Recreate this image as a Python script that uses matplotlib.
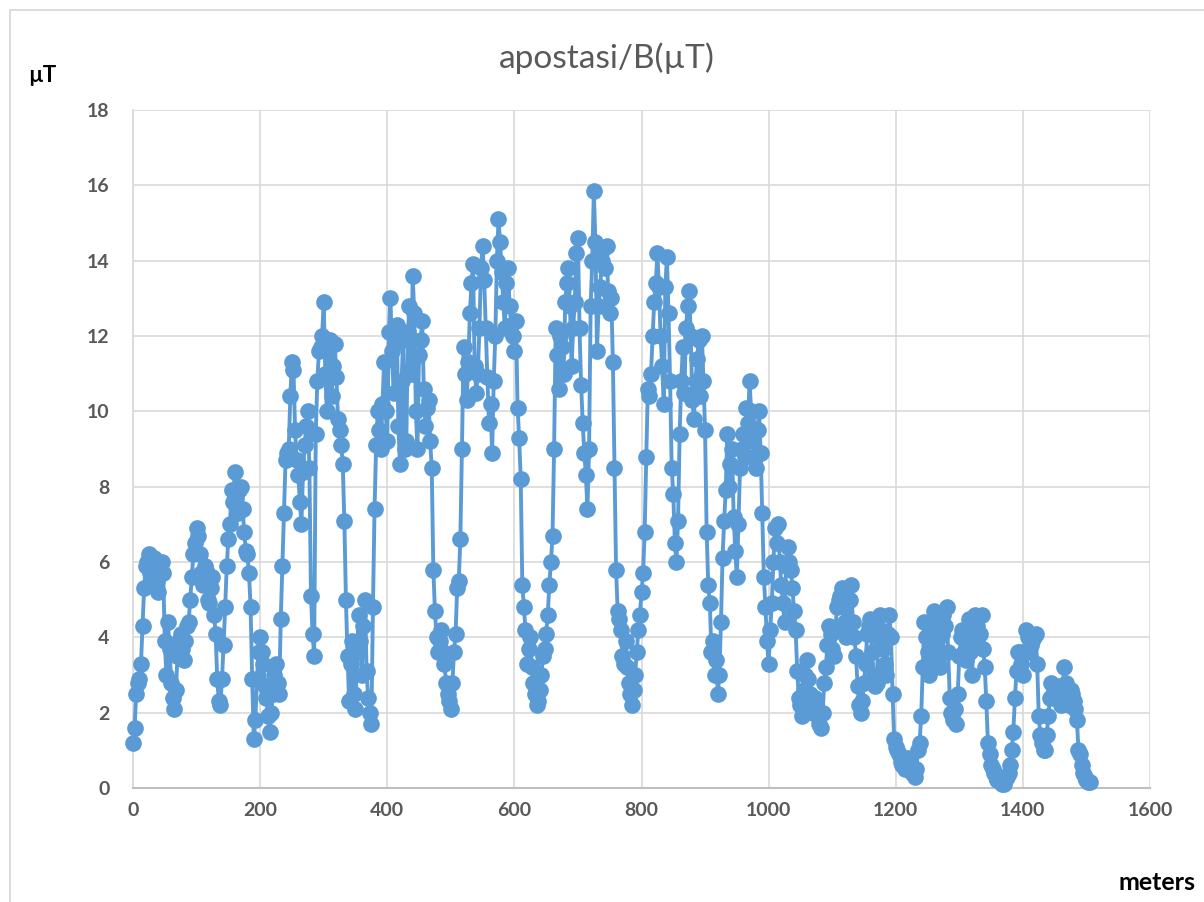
import numpy as np
import matplotlib
matplotlib.use('Agg')  # no display
import matplotlib.pyplot as plt
from matplotlib.lines import Line2D

# field readings: one at every 5 m, and the
# in-between readings (2.5 m further on) in a second list
step_m = 5
field_uT = [
	1.2, 2.5, 2.9, 4.3, 5.9, 6.2, 5.4, 5.9, 5.2, 6.0, 3.9, 4.4, 2.8, 2.1, 3.5, 4.1, 3.4, 4.3, 5.0, 6.2,
	6.9, 6.2, 5.4, 5.8, 4.9, 5.6, 4.1, 2.3, 2.9, 4.8, 6.6, 7.9, 8.4, 7.3, 8.0, 6.8, 6.2, 4.8, 1.3, 2.9,
	4.0, 3.3, 2.4, 1.5, 2.5, 3.3, 2.5, 5.9, 8.7, 9.0, 11.3, 9.5, 8.3, 7.0, 9.1, 10.0, 5.1, 3.5, 10.8, 11.7,
	12.9, 10.0, 11.9, 11.2, 10.9, 9.5, 8.6, 5.0, 2.3, 3.9, 2.1, 4.6, 3.0, 5.0, 2.4, 1.7, 7.4, 10.0, 9.0, 11.3,
	9.2, 13.0, 10.5, 12.3, 8.6, 11.9, 9.2, 12.8, 13.6, 10.0, 11.5, 12.4, 9.6, 10.3, 8.5, 4.7, 3.6, 4.2, 3.3, 2.5,
	2.1, 3.6, 5.3, 6.6, 11.7, 10.3, 12.6, 13.9, 10.5, 12.2, 14.4, 12.2, 9.7, 8.9, 12.0, 15.1, 13.7, 12.2, 13.8, 12.3,
	11.6, 10.1, 8.2, 4.8, 3.3, 4.0, 2.8, 2.2, 2.6, 3.5, 4.1, 5.4, 6.7, 12.2, 10.6, 11.7, 12.9, 13.8, 11.2, 12.9,
	14.6, 10.7, 8.9, 7.4, 12.8, 15.85, 11.6, 13.3, 14.3, 14.4, 12.6, 11.3, 5.8, 4.5, 3.5, 3.9, 2.8, 2.2, 3.0, 4.2,
	5.2, 6.8, 10.6, 11.0, 12.9, 14.2, 12.0, 10.2, 14.1, 10.8, 7.8, 6.0, 9.4, 11.7, 12.2, 13.2, 10.3, 10.8, 11.9, 12.0,
	9.5, 5.4, 3.6, 3.0, 2.5, 4.4, 7.1, 9.4, 8.6, 7.2, 5.6, 8.5, 9.4, 10.1, 10.8, 9.2, 8.5, 10.0, 7.3, 4.8,
	3.3, 4.9, 6.9, 7.0, 5.4, 4.4, 6.4, 5.8, 4.7, 3.1, 2.2, 2.6, 3.4, 2.5, 2.0, 2.2, 1.7, 2.0, 3.2, 4.3,
	3.7, 4.2, 5.0, 5.3, 4.4, 4.2, 5.4, 4.0, 2.7, 2.0, 2.8, 4.1, 4.5, 3.0, 2.8, 4.6, 3.7, 3.0, 4.6, 2.5,
	1.1, 0.9, 0.6, 0.5, 0.8, 0.4, 0.3, 1.0, 1.9, 4.4, 3.6, 3.3, 4.7, 3.9, 3.2, 4.6, 4.8, 2.4, 1.8, 1.7,
	3.5, 4.2, 3.4, 4.5, 3.0, 4.6, 3.8, 4.6, 3.2, 1.2, 0.6, 0.4, 0.2, 0.15, 0.1, 0.3, 0.6, 1.5, 3.1, 3.6,
	3.0, 4.2, 3.6, 3.9, 4.1, 1.9, 1.2, 1.0, 1.9, 2.8, 2.4, 2.7, 2.2, 3.2, 2.4, 2.6, 2.3, 1.8, 0.9, 0.4,
	0.2, 0.15,
]
field_mid_uT = [
	1.6, 2.8, 3.3, 5.3, 6.0, 5.7, 6.1, 5.5, 5.8, 5.7, 3.0, 3.7, 2.4, 2.6, 3.9, 3.7, 3.9, 4.4, 5.6, 6.5,
	6.7, 5.7, 5.9, 5.0, 5.3, 4.6, 2.9, 2.2, 3.8, 5.9, 7.0, 7.6, 7.7, 7.9, 7.4, 6.3, 5.7, 2.9, 1.8, 3.6,
	3.6, 2.7, 1.9, 2.0, 3.0, 2.8, 4.5, 7.3, 8.9, 10.4, 11.1, 8.7, 7.6, 8.4, 9.6, 8.5, 4.1, 9.4, 11.6, 12.0,
	11.0, 11.6, 10.4, 11.8, 9.8, 9.1, 7.1, 3.5, 3.3, 2.5, 3.6, 3.9, 4.3, 3.1, 2.0, 4.8, 9.1, 9.5, 10.2, 10.0,
	12.1, 11.6, 11.8, 9.6, 10.8, 9.0, 12.1, 11.0, 12.6, 9.0, 11.9, 10.6, 10.1, 9.2, 5.8, 4.0, 3.9, 3.6, 2.8, 2.3,
	2.8, 4.1, 5.5, 9.0, 11.0, 11.3, 13.4, 11.2, 11.0, 13.8, 13.5, 10.9, 10.2, 10.8, 14.0, 14.5, 12.9, 13.4, 12.8, 12.0,
	12.4, 9.3, 5.4, 4.2, 3.7, 3.2, 2.5, 2.3, 3.0, 3.7, 4.6, 6.0, 9.0, 11.5, 12.0, 11.0, 13.4, 12.8, 12.2, 14.2,
	12.2, 9.7, 8.3, 9.0, 14.0, 14.5, 12.8, 14.0, 13.8, 13.2, 13.0, 8.5, 4.7, 4.2, 3.3, 3.2, 2.5, 2.6, 3.6, 4.6,
	5.7, 8.8, 10.4, 12.0, 13.4, 13.3, 11.2, 13.3, 12.6, 8.5, 6.5, 7.1, 10.8, 10.5, 12.8, 12.0, 9.8, 11.4, 10.4, 10.8,
	6.8, 4.9, 3.9, 3.4, 3.0, 6.1, 7.9, 8.0, 9.0, 6.3, 7.0, 9.0, 8.8, 9.7, 10.0, 8.8, 9.5, 8.9, 5.6, 3.9,
	4.2, 6.0, 6.5, 6.0, 4.9, 5.9, 6.0, 5.3, 4.2, 2.4, 1.9, 3.0, 2.9, 2.2, 2.4, 1.9, 1.6, 2.8, 3.8, 4.1,
	3.5, 4.8, 5.1, 4.8, 4.0, 5.0, 4.4, 3.5, 2.2, 2.3, 3.3, 4.3, 3.6, 2.7, 4.0, 4.2, 3.3, 4.1, 4.0, 1.3,
	1.0, 0.7, 0.8, 0.6, 0.6, 0.5, 0.5, 1.2, 3.2, 4.0, 3.0, 3.9, 4.3, 3.5, 4.1, 4.3, 3.6, 2.0, 2.1, 2.5,
	4.0, 3.6, 4.1, 3.6, 4.0, 4.3, 4.1, 3.7, 2.3, 0.9, 0.5, 0.3, 0.25, 0.1, 0.2, 0.4, 1.0, 2.4, 3.6, 3.3,
	3.6, 4.0, 3.8, 4.0, 3.3, 1.4, 1.0, 1.4, 2.4, 2.5, 2.6, 2.4, 2.7, 2.8, 2.2, 2.5, 2.1, 1.0, 0.6, 0.3,
	0.15,
]

x_ticks = [0, 200, 400, 600, 800, 1000, 1200, 1400, 1600]
y_ticks = [0, 2, 4, 6, 8, 10, 12, 14, 16, 18]

# interleave the two lists into one walk along the route
n = len(field_uT) + len(field_mid_uT)
distance_m = np.empty(n)
field = np.empty(n)
distance_m[0::2] = np.arange(len(field_uT)) * step_m
distance_m[1::2] = np.arange(len(field_mid_uT)) * step_m + step_m / 2
field[0::2] = field_uT
field[1::2] = field_mid_uT

W, H = 1204, 902
blue = '#5b9bd5'
grid_c = '#d9d9d9'
label_c = '#595959'
plt.rcParams['font.family'] = ['Lato', 'DejaVu Sans']

fig = plt.figure(figsize=(W / 100, H / 100), dpi=100)
ax = fig.add_axes([133 / W, 1 - 788 / H, (1150 - 133) / W, 678 / H])

ax.plot(distance_m, field, color=blue, lw=2.8, marker='o', ms=10.8,
		mfc=blue, mec=blue, mew=1.2, clip_on=False, zorder=3)

ax.set_xlim(0, 1600)
ax.set_ylim(0, 18)
ax.set_xticks(x_ticks)
ax.set_yticks(y_ticks)
ax.grid(True, color=grid_c, lw=1.2, zorder=0)
ax.set_axisbelow(True)
ax.tick_params(length=0, labelsize=14, labelcolor=label_c)
ax.tick_params(axis='y', pad=17)
ax.tick_params(axis='x', pad=10)
for lab in ax.get_xticklabels() + ax.get_yticklabels():
	lab.set_fontweight('bold')

for s in ['top', 'right']:
	ax.spines[s].set_visible(False)
ax.spines['left'].set_color(grid_c)
ax.spines['left'].set_linewidth(1.2)
ax.spines['bottom'].set_color('#bfbfbf')
ax.spines['bottom'].set_linewidth(1.5)

# chart area border (runs off the right and bottom edges)
fig.add_artist(Line2D([10 / W, 1], [1 - 10 / H] * 2, color=grid_c, lw=1.3, transform=fig.transFigure))
fig.add_artist(Line2D([10 / W] * 2, [0, 1 - 10 / H], color=grid_c, lw=1.3, transform=fig.transFigure))

fig.text(607 / W, 1 - 58 / H, 'apostasi/B(µT)', ha='center', va='center', fontsize=24, color=label_c)
fig.text(28 / W, 1 - 76 / H, 'µT', ha='left', va='center', fontsize=16, fontweight='bold', color='black')
fig.text(1195 / W, 1 - 882 / H, 'meters', ha='right', va='center', fontsize=18, fontweight='bold', color='black')

fig.savefig('out.png', dpi=100)
plt.close(fig)
